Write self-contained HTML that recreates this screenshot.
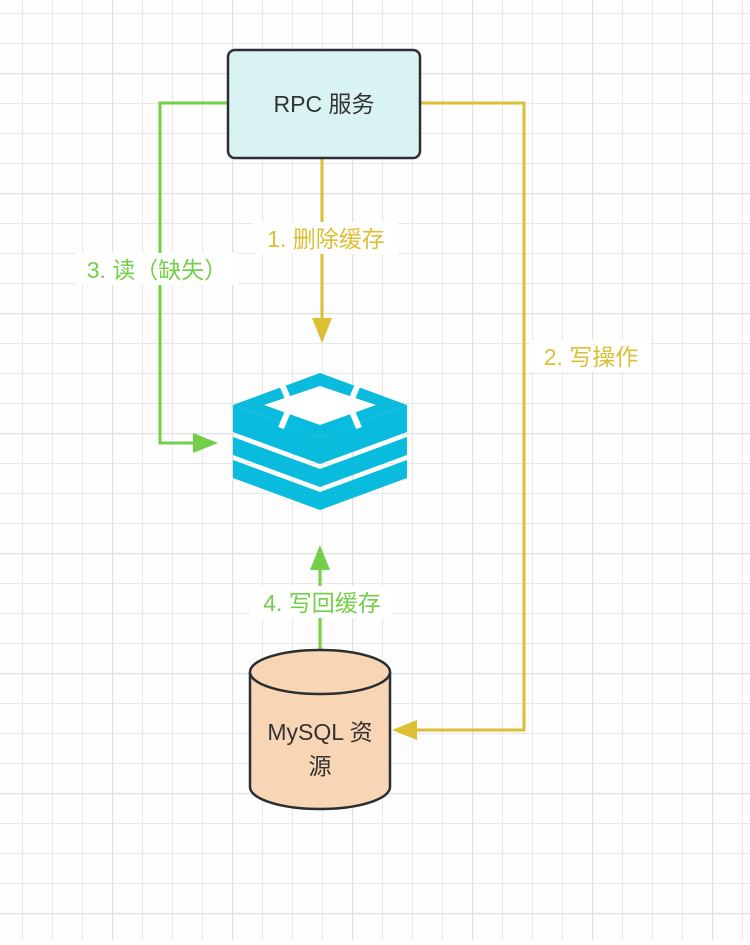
<!DOCTYPE html>
<html><head><meta charset="utf-8"><style>
html,body{margin:0;padding:0;}
body{width:750px;height:940px;overflow:hidden;background:#fff;font-family:"Liberation Sans","Noto Sans CJK SC",sans-serif;}
</style></head><body>
<svg width="750" height="940" xmlns="http://www.w3.org/2000/svg">
<defs>
<pattern id="g" x="-8" y="13" width="30" height="30" patternUnits="userSpaceOnUse">
<path d="M30 0H0V30" fill="none" stroke="#e8e8e8" stroke-width="2"/>
</pattern>
<pattern id="G" x="-8" y="-47" width="120" height="120" patternUnits="userSpaceOnUse">
<path d="M120 0H0V120" fill="none" stroke="#e0e0e0" stroke-width="2.5"/>
</pattern>
</defs>
<rect width="750" height="940" fill="#fdfdfd"/>
<rect width="750" height="940" fill="url(#g)"/>
<rect width="750" height="940" fill="url(#G)"/>

<g stroke="#dcbf33" stroke-width="3" fill="none">
<path d="M322 158V320"/>
<path d="M420 103H524V730H415"/>
</g>
<polygon points="312,318 332,318 322,343" fill="#dcbf33"/>
<polygon points="392,730 417,720 417,740" fill="#dcbf33"/>
<g stroke="#74cf48" stroke-width="3" fill="none">
<path d="M228 103H160V443H195"/>
<path d="M320 650V568"/>
</g>
<polygon points="193,433 193,453 218,443" fill="#74cf48"/>
<polygon points="310,570 330,570 320,545" fill="#74cf48"/>

<rect x="228" y="50" width="192" height="108" rx="7" fill="#d8f3f2" stroke="#2b2f33" stroke-width="2.5"/>
<text x="324" y="112" font-size="23" fill="#333" text-anchor="middle">RPC 服务</text>

<rect x="254" y="222" width="144" height="32" fill="#fff"/>
<text x="326" y="247" font-size="23" fill="#dcbf33" text-anchor="middle">1. 删除缓存</text>
<rect x="76" y="253" width="162" height="32" fill="#fff"/>
<text x="157" y="278" font-size="23" fill="#74cf48" text-anchor="middle">3. 读（缺失）</text>
<rect x="530" y="340" width="120" height="32" fill="#fff"/>
<text x="591" y="365" font-size="23" fill="#dcbf33" text-anchor="middle">2. 写操作</text>
<rect x="250" y="586" width="144" height="32" fill="#fff"/>
<text x="322" y="611" font-size="23" fill="#74cf48" text-anchor="middle">4. 写回缓存</text>

<g fill="#09bbdc">
<polygon points="233,405 320,437 407,405 407,432 320,464 233,432"/>
<polygon points="233,437 320,469 407,437 407,455 320,487 233,455"/>
<polygon points="233,460 320,492 407,460 407,478 320,510 233,478"/>
</g>
<polygon points="233,405 320,373 407,405 320,437" fill="#09bbdc"/>
<polygon points="264,405 320,386 376,405 320,425" fill="#fff"/>
<g stroke="#fff" stroke-width="6">
<line x1="281" y1="382" x2="289" y2="401"/>
<line x1="359" y1="382" x2="351" y2="401"/>
<line x1="281" y1="428" x2="289" y2="409"/>
<line x1="359" y1="428" x2="351" y2="409"/>
</g>

<path d="M250 672V787A70 22 0 0 0 390 787V672" fill="#f8d5b5" stroke="#2b2f33" stroke-width="2.5"/>
<ellipse cx="320" cy="672" rx="70" ry="22" fill="#f8d5b5" stroke="#2b2f33" stroke-width="2.5"/>
<text x="320" y="740" font-size="23" fill="#333" text-anchor="middle">MySQL 资</text>
<text x="320" y="774" font-size="23" fill="#333" text-anchor="middle">源</text>
</svg>
</body></html>
